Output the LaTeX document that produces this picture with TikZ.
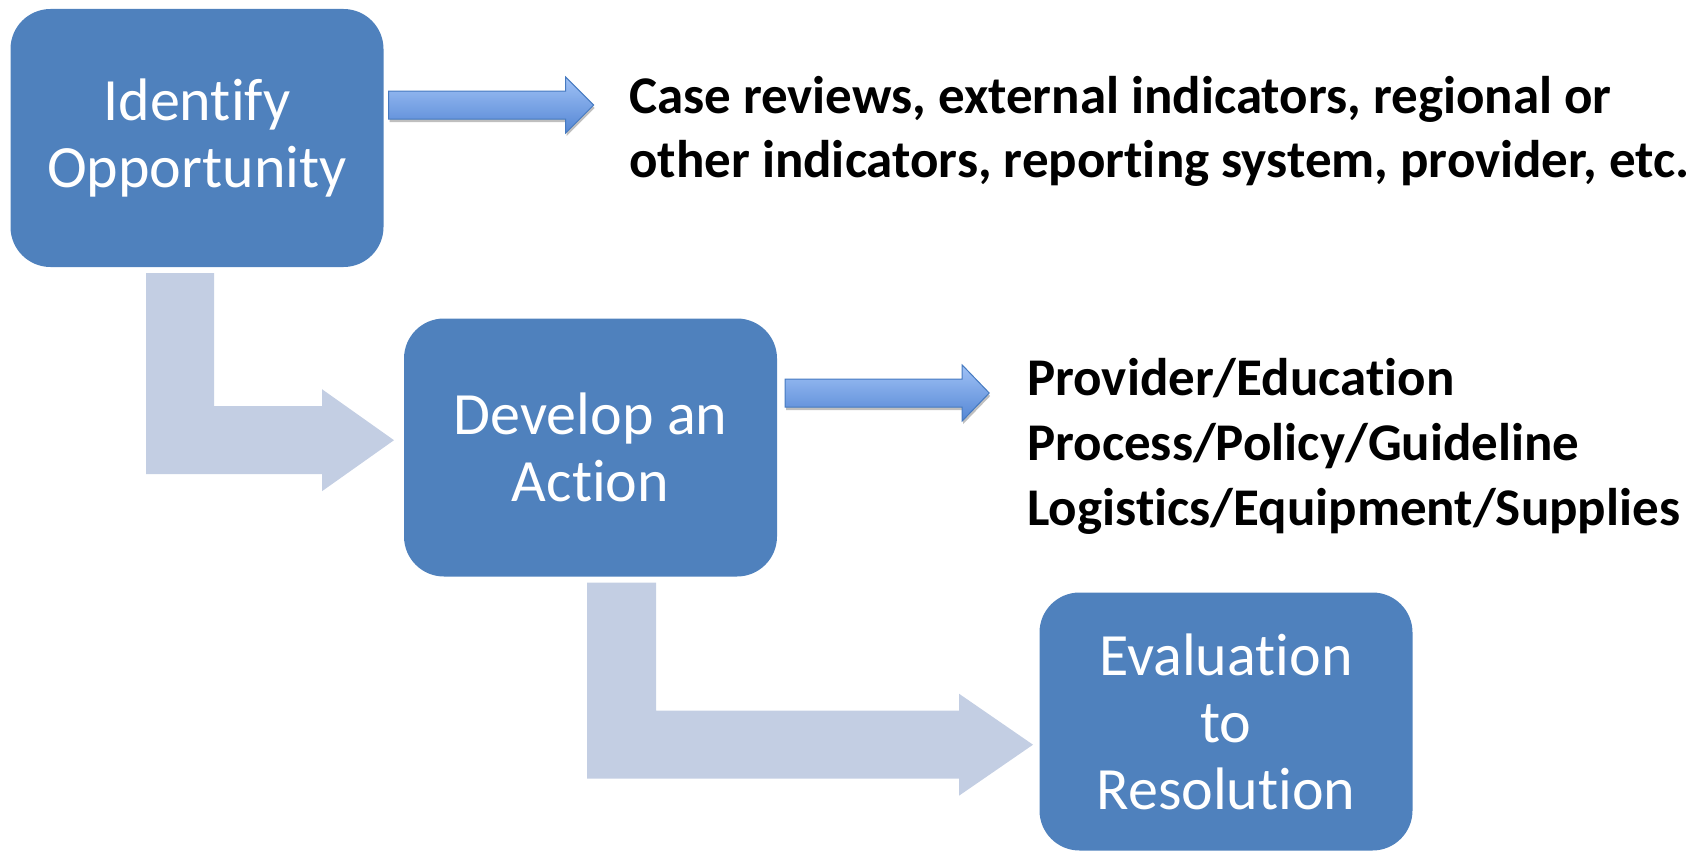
\documentclass[tikz,border=0pt]{standalone}
\usepackage{fontspec}
\setmainfont{Carlito}[Ligatures=NoCommon]
\usetikzlibrary{shadows,calc}
\definecolor{boxblue}{RGB}{79,129,189}
\definecolor{lightarr}{RGB}{195,206,227}
\definecolor{arrtop}{RGB}{160,194,246}
\definecolor{arrmid}{RGB}{128,170,236}
\definecolor{arrbot}{RGB}{84,134,212}
\definecolor{arredge}{RGB}{70,122,192}
\tikzset{
  stepbox/.style={rectangle, rounded corners=40pt, fill=boxblue, text=white,
    minimum width=373pt, minimum height=258pt, align=center, inner sep=0pt,
    font=\fontsize{60}{67}\selectfont},
  larrow/.style={fill=lightarr},
  blockarrow/.style={draw=arredge, line width=1pt, top color=arrtop,
    middle color=arrmid, bottom color=arrbot,
    drop shadow={shadow xshift=1pt, shadow yshift=-3pt, fill=black, opacity=0.25}},
  note/.style={anchor=base west, inner sep=0pt, text=black,
    font=\fontsize{53}{65}\selectfont\bfseries}
}
\begin{document}
\begin{tikzpicture}[x=1pt,y=-1pt]
\useasboundingbox (0,0) rectangle (1708,851);
\node[stepbox] (b1) at (197,138) {Identify\\Opportunity};
\node[stepbox] (b2) at (590.5,447.5) {Develop an\\Action};
\node[stepbox] (b3) at (1226,721.5) {Evaluation\\to\\Resolution};
% light bent arrows
\fill[larrow] ($(b1.south)+(-51,6)$) -- ++(68,0) -- ++(0,133) -- ++(108,0)
  -- ++(0,-17) -- ++(72,51) -- ++(-72,51) -- ++(0,-17) -- ++(-176,0) -- cycle;
\fill[larrow] ($(b2.south)+(-3.5,6)$) -- ++(69,0) -- ++(0,128) -- ++(303,0)
  -- ++(0,-17) -- ++(74,51) -- ++(-74,51) -- ++(0,-17) -- ++(-372,0) -- cycle;
% blue block arrows
\draw[blockarrow] ($(b1.east)+(5,-47)$) -- ++(177,0) -- ++(0,-14) -- ++(28,28)
  -- ++(-28,28) -- ++(0,-14) -- ++(-177,0) -- cycle;
\draw[blockarrow] ($(b2.east)+(8,-68.5)$) -- ++(177,0) -- ++(0,-14) -- ++(27,28)
  -- ++(-27,28) -- ++(0,-14) -- ++(-177,0) -- cycle;
% notes
\node[note] (t1a) at (629,113) {Case reviews, external indicators, regional or};
\node[note] (t1b) at (629,177) {other indicators, reporting system, provider, etc.};
\node[note] (t2a) at (1027,395) {Provider/Education};
\node[note] (t2b) at (1027,460) {Process/Policy/Guideline};
\node[note] (t2c) at (1027,525) {Logistics/Equipment/Supplies};
\end{tikzpicture}
\end{document}
